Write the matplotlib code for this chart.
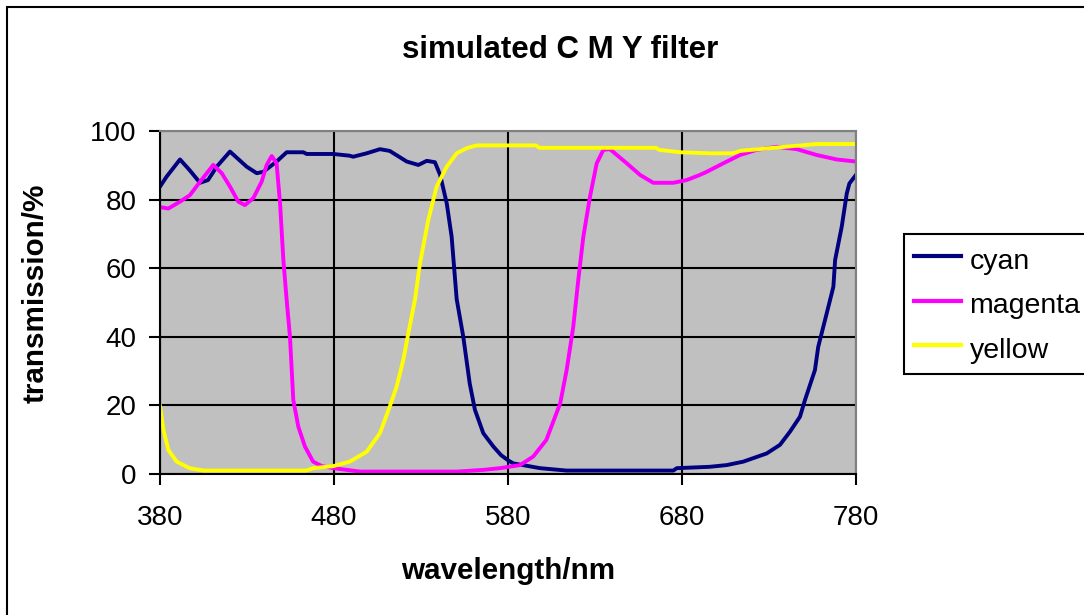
import matplotlib
matplotlib.use("Agg")
import matplotlib.pyplot as plt
from matplotlib.patches import Rectangle

plt.rcParams['font.family'] = ['Liberation Sans', 'DejaVu Sans']

# transmission curves, wavelength in nm / transmission in %
cyan_nm = [380, 383.8, 391.5, 397, 403, 407.6, 412.6, 420.2, 429.8, 435.6, 439.4, 447,
           452.8, 462.4, 464.3, 479.6, 489, 491, 498.8, 506.4, 512, 521.8, 528.5, 533.3,
           538, 541, 544.8, 547.6, 550.5, 554.3, 558, 561, 565.8, 571.6, 576, 580, 583,
           598.4, 613.7, 675, 677, 696, 705.7, 715.2, 728.7, 736.3, 742, 747.8, 750.7,
           756.4, 758.3, 763.2, 767, 768, 771.8, 774.7, 776.2, 780]
cyan_t = [83.8, 86.7, 91.7, 88.6, 84.9, 85.7, 89.6, 94.0, 89.6, 87.7, 88.1, 91.1,
          93.8, 93.8, 93.3, 93.3, 92.8, 92.5, 93.5, 94.7, 94.2, 91.1, 90.1, 91.3,
          90.9, 87.2, 78.9, 69.2, 51.0, 40.0, 26.4, 18.7, 11.9, 8.0, 5.5, 4.0, 3.1,
          1.7, 1.0, 1.0, 1.7, 2.1, 2.6, 3.6, 6.0, 8.5, 12.3, 16.7, 21.6,
          30.3, 37.1, 46.9, 54.6, 62.4, 72.1, 81.8, 84.7, 87.2]

magenta_nm = [380, 384.8, 391.5, 397.2, 403, 410.6, 415.5, 420.2, 425, 428.8, 433.6,
              438.4, 441.3, 444.2, 447, 449, 450.9, 452.8, 454.7, 456.6, 459.5, 463.3,
              468, 473, 479.6, 495, 550.5, 565.8, 575.4, 587, 594.5, 602, 610, 613.7,
              617.5, 620.4, 623.3, 627.1, 631, 634.8, 638.6, 648.2, 655.9, 663.5, 675,
              682.7, 690.3, 694.2, 703.8, 713.3, 723, 734.4, 746, 757.4, 768.9, 780]
magenta_t = [77.8, 77.4, 79.4, 81.3, 85.2, 90.1, 87.7, 83.8, 79.4, 78.4, 80.4,
             85.2, 90.1, 92.7, 90.6, 78.9, 62.4, 50.7, 40.0, 21.6, 13.8, 8.0,
             3.6, 2.3, 1.7, 0.7, 0.7, 1.2, 1.7, 2.6, 5.1, 9.9, 20.6, 30.3,
             42.9, 56.6, 69.2, 80.8, 90.6, 94.5, 94.7, 90.6, 87.2, 84.9, 84.9,
             85.7, 87.2, 88.1, 90.6, 93.0, 94.5, 95.4, 94.7, 93.0, 91.7, 91.1]

yellow_nm = [380, 382, 384.8, 389.6, 397, 405, 464, 468, 479.6, 489, 498.8, 506.4, 512,
             516, 519.8, 522.7, 526.6, 529.4, 534.2, 539, 544.8, 550.5, 556.3, 562, 596,
             598, 665, 667, 679, 696, 709.5, 713.3, 730.6, 746, 757.4, 780]
yellow_t = [19.8, 12.8, 7.0, 3.6, 1.7, 1.0, 1.0, 1.7, 2.3, 3.6, 6.5, 11.9, 19.6,
            25.5, 33.2, 41.0, 51.0, 61.4, 74.1, 83.8, 89.6, 93.5, 95.0, 95.8, 95.8,
            95.1, 95.1, 94.5, 93.8, 93.5, 93.5, 94.2, 95.0, 95.7, 96.2, 96.2]

x_ticks = [380, 480, 580, 680, 780]
y_ticks = [0, 20, 40, 60, 80, 100]

W, H = 1084, 615
fig = plt.figure(figsize=(W / 100, H / 100), dpi=100)
ax = fig.add_axes([160 / W, 1 - 474 / H, 696 / W, 343 / H])
ax.set_facecolor('#C0C0C0')

ax.plot(cyan_nm, cyan_t, color='#000080', lw=2.8, label='cyan')
ax.plot(magenta_nm, magenta_t, color='#FF00FF', lw=2.8, label='magenta')
ax.plot(yellow_nm, yellow_t, color='#FFFF00', lw=2.8, label='yellow')

ax.set_xlim(380, 780)
ax.set_ylim(0, 100)
ax.set_xticks(x_ticks)
ax.set_yticks(y_ticks)
ax.grid(True, color='black', lw=1.5)
ax.set_axisbelow(True)
ax.tick_params(direction='out', length=8, width=1.5, labelsize=20, color='black')
ax.tick_params(axis='x', pad=14)
ax.tick_params(axis='y', pad=9)
for s in ['top', 'right']:
    ax.spines[s].set_color('#808080')
    ax.spines[s].set_linewidth(1.5)
for s in ['left', 'bottom']:
    ax.spines[s].set_color('black')
    ax.spines[s].set_linewidth(1.5)

fig.text(560 / W, 1 - 50 / H, 'simulated C M Y filter', fontsize=22.5,
         fontweight='bold', ha='center', va='center')
fig.text(508 / W, 1 - 571 / H, 'wavelength/nm', fontsize=21.3,
         fontweight='bold', ha='center', va='center')
fig.text(36 / W, 1 - 293 / H, 'transmission/%', fontsize=21.3,
         fontweight='bold', ha='center', va='center', rotation=90)

leg = ax.legend(loc='upper left', bbox_to_anchor=(904 / W, 1 - 234 / H),
                bbox_transform=fig.transFigure, borderaxespad=0, fontsize=20.5,
                fancybox=False, edgecolor='black', framealpha=1,
                handlelength=1.65, handletextpad=0.3, borderpad=0.35,
                handleheight=1.3, labelspacing=0.47)
leg.get_frame().set_linewidth(1.5)
for line in leg.get_lines():
    line.set_linewidth(3)

# outer chart border
fig.patches.append(Rectangle((7 / W, -0.1), 1.2, 1 - 7 / H + 0.1, fill=False,
                             edgecolor='black', lw=1.5,
                             transform=fig.transFigure, figure=fig))

fig.savefig('out.png', dpi=100)
